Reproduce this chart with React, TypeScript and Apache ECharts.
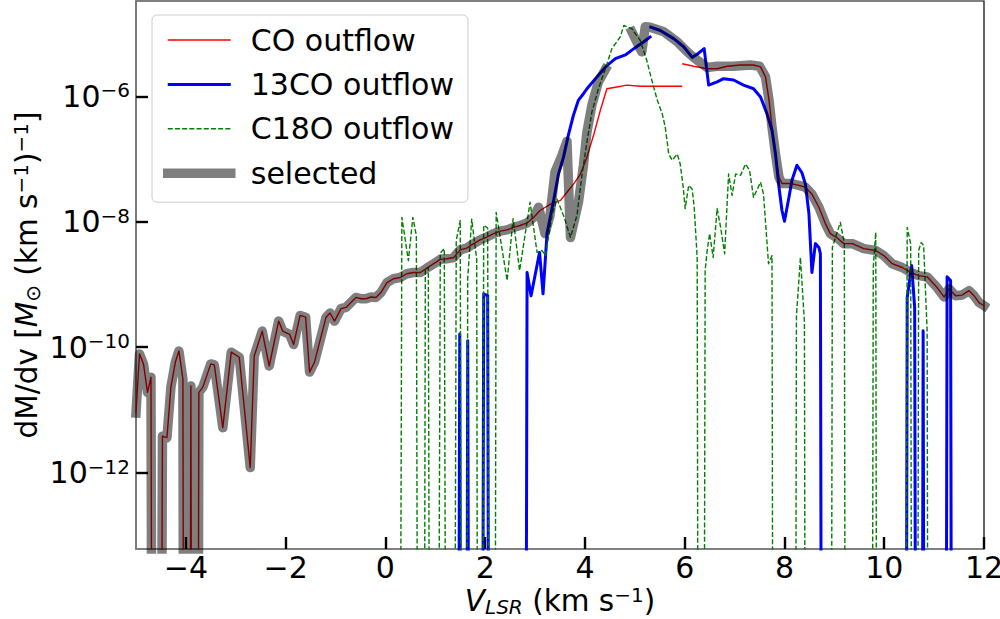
import React, { useEffect, useRef } from "react";
import * as echarts from "echarts";

// dM/dv [Msun (km/s)^-1] versus V_LSR [km/s]; 0 = empty channel, null = no data
const CO_OUTFLOW: [number, number | null][] = [
  [-5.0, 8.9e-12], [-4.93, 7.8e-11], [-4.85, 5.4e-11], [-4.77, 1.9e-11], [-4.7, 3.3e-11],
  [-4.6, 0], [-4.47, 3.8e-12], [-4.38, 3.6e-12], [-4.3, 2.3e-11], [-4.21, 5.8e-11],
  [-4.14, 8.7e-11], [-4.06, 3.1e-11], [-3.98, 0], [-3.9, 2.4e-11], [-3.82, 0],
  [-3.74, 1.9e-11], [-3.66, 2.3e-11], [-3.5, 5.4e-11], [-3.43, 5.2e-11], [-3.26, 5.2e-12],
  [-3.09, 8.3e-11], [-2.93, 6.9e-11], [-2.71, 1.2e-12], [-2.63, 7.2e-11], [-2.47, 1.8e-10],
  [-2.33, 5.0e-11], [-2.14, 2.6e-10], [-2.06, 1.8e-10], [-1.92, 1.6e-10], [-1.84, 1.1e-10],
  [-1.71, 3.2e-10], [-1.6, 3.0e-10], [-1.52, 4.0e-11], [-1.42, 5.8e-11], [-1.19, 3.0e-10],
  [-1.11, 3.5e-10], [-1.02, 2.6e-10], [-0.89, 4.1e-10], [-0.79, 4.3e-10], [-0.59, 6.2e-10],
  [-0.49, 5.9e-10], [-0.39, 5.9e-10], [-0.29, 6.3e-10], [-0.19, 6.2e-10], [-0.09, 7.4e-10],
  [0.03, 1.07e-9], [0.16, 1.23e-9], [0.3, 1.29e-9], [0.43, 1.48e-9], [0.56, 1.55e-9],
  [0.7, 1.55e-9], [0.83, 1.82e-9], [0.97, 2.14e-9], [1.1, 2.51e-9], [1.23, 2.57e-9],
  [1.37, 2.69e-9], [1.5, 3.55e-9], [1.63, 3.8e-9], [1.77, 4.47e-9], [1.9, 5.13e-9],
  [2.04, 5.75e-9], [2.17, 6.46e-9], [2.3, 7.08e-9], [2.44, 7.41e-9], [2.57, 8.13e-9],
  [2.7, 8.71e-9], [2.84, 9.55e-9], [2.97, 1.17e-8], [3.1, 1.51e-8], [3.31, 1.91e-8],
  [3.51, 2.19e-8], [3.64, 2.95e-8], [3.77, 3.98e-8], [3.91, 5.75e-8], [4.04, 1.07e-7],
  [4.18, 2.51e-7], [4.31, 6.03e-7], [4.44, 1.32e-6], [4.64, 1.41e-6], [4.84, 1.51e-6],
  [5.11, 1.45e-6], [5.38, 1.45e-6], [5.65, 1.45e-6], [5.95, 1.45e-6], [5.95, null],
  [5.95, 3.31e-6], [6.18, 3.02e-6], [6.45, 2.75e-6], [6.65, 2.75e-6], [6.85, 3.02e-6],
  [7.12, 3.16e-6], [7.38, 3.16e-6], [7.52, 2.95e-6], [7.62, 2.04e-6], [7.69, 8.71e-7],
  [7.75, 3.24e-7], [7.82, 1.2e-7], [7.89, 5.13e-8], [7.95, 4.07e-8], [8.12, 4.07e-8],
  [8.29, 3.8e-8], [8.42, 3.55e-8], [8.55, 2.75e-8], [8.69, 1.7e-8], [8.82, 9.33e-9],
  [8.92, 6.46e-9], [9.06, 5.5e-9], [9.19, 4.47e-9], [9.36, 4.47e-9], [9.59, 3.72e-9],
  [9.83, 3.47e-9], [9.99, 2.88e-9], [10.16, 2.14e-9], [10.36, 1.86e-9], [10.53, 1.55e-9],
  [10.69, 1.38e-9], [10.86, 1.32e-9], [11.06, 8.91e-10], [11.2, 6.31e-10], [11.3, 8.51e-10],
  [11.43, 6.61e-10], [11.56, 6.76e-10], [11.7, 7.94e-10], [11.8, 6.61e-10], [11.9, 5.13e-10],
  [12.0, 4.57e-10],
];

const CO13_OUTFLOW: [number, number | null][] = [
  [1.39, 0], [1.49, 1.62e-10], [1.57, 0], [1.65, 1.26e-10], [1.75, 0], [1.88, 0],
  [1.97, 7.08e-10], [2.05, 6.61e-10], [2.14, 0], [2.75, 0], [2.84, 1.55e-9], [2.92, 6.61e-10],
  [3.09, 3.24e-9], [3.16, 7.08e-10], [3.24, 6.46e-9], [3.37, 2.14e-8], [3.47, 5.75e-8],
  [3.57, 1.07e-7], [3.67, 2.45e-7], [3.77, 5.01e-7], [3.87, 8.71e-7], [3.97, 1.1e-6],
  [4.04, 1.32e-6], [4.24, 2.04e-6], [4.44, 3.09e-6], [4.61, 3.98e-6], [4.81, 4.57e-6],
  [4.98, 5.75e-6], [5.18, 7.41e-6], [5.33, 9.12e-6], [5.33, null], [5.29, 1.29e-5],
  [5.51, 1.12e-5], [5.78, 8.32e-6], [5.98, 6.17e-6], [6.15, 4.17e-6], [6.25, 4.68e-6],
  [6.39, 5.75e-6], [6.48, 1.51e-6], [6.65, 1.7e-6], [6.78, 1.91e-6], [6.98, 1.82e-6],
  [7.18, 1.51e-6], [7.38, 1.32e-6], [7.52, 9.77e-7], [7.65, 5.25e-7], [7.75, 2.88e-7],
  [7.82, 1.2e-7], [7.89, 3.55e-8], [7.95, 1.51e-8], [8.0, 1.02e-8], [8.09, 2.45e-8],
  [8.15, 4.57e-8], [8.25, 7.94e-8], [8.35, 6.03e-8], [8.42, 3.98e-8], [8.49, 1.35e-8],
  [8.55, 1.55e-9], [8.62, 4.47e-9], [8.69, 3.89e-9], [8.72, 3.09e-9], [8.8, 0],
  [10.38, 0], [10.46, 6.17e-10], [10.55, 2.0e-9], [10.61, 4.27e-10], [10.7, 0],
  [10.78, 1.82e-10], [10.86, 0], [11.18, 0], [11.26, 1.32e-9], [11.33, 1.15e-9], [11.41, 0],
];

const C18O_OUTFLOW: [number, number | null][] = [
  [0.21, 0], [0.33, 1.17e-8], [0.46, 2.4e-9], [0.55, 1.17e-8], [0.62, 6.03e-9], [0.72, 0],
  [0.8, 1.78e-9], [0.86, 1.86e-9], [0.96, 0], [1.1, 3.16e-9], [1.18, 3.72e-9], [1.3, 0],
  [1.42, 5.01e-9], [1.5, 1.05e-8], [1.58, 0], [1.65, 1.26e-9], [1.73, 1.1e-8], [1.83, 2.51e-9],
  [1.9, 0], [1.97, 8.71e-9], [2.05, 7.94e-9], [2.14, 0], [2.22, 1.41e-8], [2.44, 1.15e-9],
  [2.56, 1.12e-8], [2.69, 1.66e-9], [2.9, 2.04e-8], [3.04, 3.24e-9], [3.14, 3.47e-9],
  [3.21, 2.88e-9], [3.34, 1.26e-8], [3.44, 2.29e-8], [3.57, 1.26e-8], [3.71, 5.62e-9],
  [3.84, 1.26e-8], [3.94, 5.5e-8], [4.04, 1.86e-7], [4.14, 5.62e-7], [4.27, 1.32e-6],
  [4.41, 2.75e-6], [4.54, 5.75e-6], [4.71, 8.91e-6], [4.78, 1.35e-5], [4.94, 1.2e-5],
  [5.11, 7.76e-6], [5.24, 3.72e-6], [5.34, 1.82e-6], [5.45, 8.71e-7], [5.55, 5.25e-7],
  [5.61, 3.24e-7], [5.68, 1.2e-7], [5.75, 9.55e-8], [5.85, 1.2e-7], [5.91, 8.32e-8],
  [5.97, 3.55e-8], [6.01, 1.62e-8], [6.08, 3.8e-8], [6.15, 3.31e-8], [6.19, 1.7e-8],
  [6.25, 2.69e-9], [6.32, 0], [6.41, 1.66e-9], [6.45, 3.47e-9], [6.5, 6.46e-9],
  [6.57, 2.69e-9], [6.65, 1.62e-8], [6.72, 8.13e-9], [6.8, 3.09e-9], [6.88, 5.75e-8],
  [6.95, 2.63e-8], [7.02, 5.75e-8], [7.12, 5.5e-8], [7.22, 8.32e-8], [7.3, 6.61e-8],
  [7.38, 2.45e-8], [7.52, 4.27e-8], [7.58, 2.75e-8], [7.68, 2.14e-9], [7.75, 2.88e-9],
  [7.82, 0], [8.17, 0], [8.24, 3.16e-10], [8.32, 2.69e-9], [8.4, 2.51e-10], [8.47, 0],
  [8.88, 0], [8.96, 3.89e-9], [9.12, 9.77e-9], [9.2, 4.47e-9], [9.27, 0], [9.7, 0],
  [9.78, 1.86e-9], [9.83, 6.76e-9], [9.9, 0], [10.38, 0], [10.46, 8.13e-9], [10.53, 4.47e-9],
  [10.61, 0], [10.69, 3.47e-9], [10.74, 4.68e-9], [10.79, 4.17e-9], [10.86, 1.82e-10], [10.93, 0],
];

// part of the selected curve that departs from the CO curve
const SELECTED_MID: [number, number | null][] = [
  [3.07, 1.7e-8], [3.2, 6.46e-9], [3.3, 1.26e-8], [3.4, 6.17e-8], [3.54, 1.15e-7],
  [3.64, 1.91e-7], [3.71, 5.62e-9], [3.87, 2.04e-8], [3.97, 7.94e-8], [4.04, 2.69e-7],
  [4.14, 7.24e-7], [4.27, 1.7e-6], [4.41, 2.69e-6], [4.41, null], [4.94, 1.07e-5],
  [5.14, 5.13e-6], [5.21, 1.29e-5], [5.31, 1.26e-5], [5.58, 1.07e-5], [5.85, 7.41e-6],
  [6.05, 5.13e-6], [6.21, 3.98e-6], [6.45, 2.88e-6], [6.65, 3.02e-6], [6.98, 3.02e-6],
  [7.32, 3.16e-6], [7.5, 3.02e-6],
];

const SELECTED: [number, number | null][] = [
  ...CO_OUTFLOW.filter(([v]) => v <= 2.98),
  ...SELECTED_MID,
  ...CO_OUTFLOW.filter(([v]) => v >= 7.6),
];

const SERIES_NAMES = ["CO outflow", "13CO outflow", "C18O outflow", "selected"];
const X_TICKS = [-4, -2, 0, 2, 4, 6, 8, 10, 12];
const Y_TICKS = [1e-12, 1e-10, 1e-8, 1e-6];

const FONT = "DejaVu Sans";
const LOG_FLOOR = 1e-40; // empty channels fall off the bottom of the log axis

const STYLE_CO = { color: "#ff0000", width: 1.4 };
const STYLE_13CO = { color: "#0000ff", width: 3 };
const STYLE_C18O = { color: "#008000", width: 1.4, dash: [5, 2.2] };
const STYLE_SEL = { color: "rgba(0,0,0,0.5)", width: 9.5 };

function toData(rows: [number, number | null][]) {
  return rows.map(([v, m]) => [v, m === null ? "-" : m <= 0 ? LOG_FLOOR : m]);
}

export default function App() {
  const ref = useRef<HTMLDivElement>(null);

  useEffect(() => {
    if (!ref.current) return;
    const chart = echarts.init(ref.current, null, { renderer: "svg" });

    const base = { fontSize: 29.5, fontFamily: FONT, color: "#000", lineHeight: 32 };
    const sup = { fontSize: 20, fontFamily: FONT, color: "#000", lineHeight: 15, verticalAlign: "top" };
    const sub = { fontSize: 20, fontFamily: FONT, color: "#000", lineHeight: 16, verticalAlign: "bottom" };
    const ital = { ...base, fontStyle: "italic" };
    const italSub = { ...sub, fontStyle: "italic" };
    const tickBase = { fontSize: 30, fontFamily: FONT, color: "#000", lineHeight: 32 };
    const tickSup = { fontSize: 20, fontFamily: FONT, color: "#000", lineHeight: 15, verticalAlign: "top" };

    const lineSeries = (name: string, rows: [number, number | null][], st: any, extra: any = {}) => ({
      name,
      type: "line",
      data: toData(rows),
      symbol: "none",
      showSymbol: false,
      connectNulls: false,
      clip: true,
      color: st.color,
      lineStyle: { color: st.color, width: st.width, type: st.dash || "solid", join: "round", ...extra },
    });

    const option: any = {
      animation: false,
      backgroundColor: "#ffffff",
      grid: {
        left: 136,
        right: 16,
        top: 1,
        bottom: 70,
        show: true,
        borderColor: "#000000",
        borderWidth: 1.2,
        backgroundColor: "transparent",
        containLabel: false,
        outerBoundsMode: "none",
      },
      legend: {
        data: [
          { name: SERIES_NAMES[0], lineStyle: { width: STYLE_CO.width } },
          { name: SERIES_NAMES[1], lineStyle: { width: STYLE_13CO.width } },
          { name: SERIES_NAMES[2], lineStyle: { width: STYLE_C18O.width } },
          { name: SERIES_NAMES[3], lineStyle: { width: STYLE_SEL.width, cap: "square" } },
        ],
        orient: "vertical",
        left: 152,
        top: 15,
        itemWidth: 63,
        itemHeight: 30,
        itemGap: 14.4,
        padding: [10, 14, 14, 11],
        backgroundColor: "rgba(255,255,255,0.8)",
        borderColor: "#cccccc",
        borderWidth: 1,
        borderRadius: 5,
        selectedMode: false,
        itemStyle: { opacity: 0 },
        textStyle: { fontSize: 30, fontFamily: FONT, color: "#000", lineHeight: 30, padding: [0, 0, 0, 15] },
      },
      xAxis: {
        type: "value",
        min: -5,
        max: 12,
        name: "{i|V}{is|LSR}{n| (km s}{s|−1}{n|)}",
        nameLocation: "middle",
        nameGap: 36,
        nameMoveOverlap: false,
        nameTextStyle: { ...base, rich: { i: ital, is: italSub, n: base, s: sup } },
        axisLine: { show: true, onZero: false, lineStyle: { color: "#808080", width: 1.6 } },
        axisTick: { show: true, inside: true, length: 12, customValues: X_TICKS, lineStyle: { color: "#000", width: 2.4 } },
        axisLabel: {
          customValues: X_TICKS,
          margin: 3,
          color: "#000",
          fontSize: 30,
          lineHeight: 30,
          fontFamily: FONT,
          formatter: (v: number) => (v < 0 ? "−" + Math.abs(v) : String(v)),
        },
        splitLine: { show: false },
      },
      yAxis: {
        type: "log",
        logBase: 10,
        min: 6.03e-14,
        max: 3.31e-5,
        name: "dM/dv [{i|M}{s2|⊙}{n| (km s}{s|−1}{n|)}{s|−1}{n|]}",
        nameLocation: "middle",
        nameGap: 93,
        nameRotate: 90,
        nameMoveOverlap: false,
        nameTextStyle: { ...base, rich: { i: ital, s: sup, s2: sub, n: base } },
        axisLine: { show: true, onZero: false, lineStyle: { color: "#808080", width: 1.6 } },
        axisTick: { show: true, inside: true, length: 12, customValues: Y_TICKS, lineStyle: { color: "#000", width: 2.4 } },
        axisLabel: {
          customValues: Y_TICKS,
          margin: 6,
          formatter: (v: number) => "{b|10}{e|−" + Math.abs(Math.round(Math.log10(v))) + "}",
          rich: { b: tickBase, e: tickSup },
        },
        splitLine: { show: false },
        minorTick: { show: false },
      },
      series: [
        lineSeries(SERIES_NAMES[0], CO_OUTFLOW, STYLE_CO),
        lineSeries(SERIES_NAMES[1], CO13_OUTFLOW, STYLE_13CO),
        lineSeries(SERIES_NAMES[2], C18O_OUTFLOW, STYLE_C18O),
        lineSeries(SERIES_NAMES[3], SELECTED, STYLE_SEL, { cap: "square" }),
      ],
    };

    chart.setOption(option);
    return () => chart.dispose();
  }, []);

  return (
    <div
      ref={ref}
      style={{ position: "fixed", left: 0, top: 0, width: 1000, height: 619, background: "#fff" }}
    />
  );
}
